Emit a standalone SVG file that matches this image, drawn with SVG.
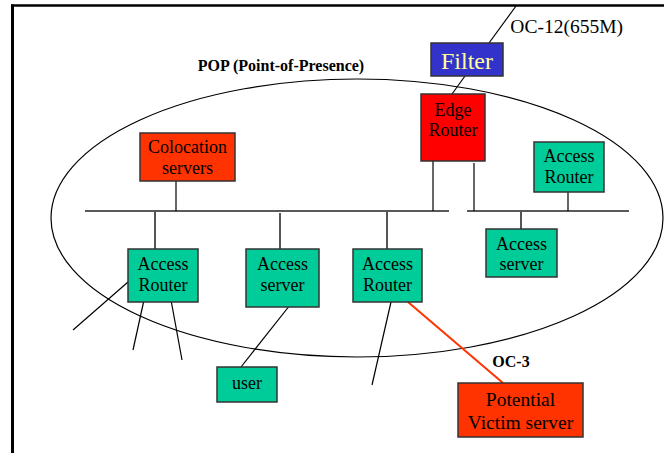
<svg xmlns="http://www.w3.org/2000/svg" width="664" height="453" viewBox="0 0 664 453">
  <style>
    text { font-family: "Liberation Serif", "Times New Roman", serif; text-anchor: middle; fill: #000; }
    .lbl { font-size: 18px; }
    .box { stroke: #333; stroke-width: 1.5; }
    .green { fill: #00CC99; }
    .orange { fill: #FF3300; }
    .wire { stroke: #000; stroke-width: 1.2; fill: none; }
    .stub { stroke: #555; stroke-width: 2; fill: none; }
    .bus { stroke: #222; stroke-width: 1.6; fill: none; }
    .bold { font-weight: bold; font-size: 16px; }
  </style>

  <rect width="664" height="453" fill="#fff"/>

  <!-- page frame -->
  <g id="frame" fill="none" stroke="#000">
    <line x1="11" y1="5.5" x2="664" y2="5.5" stroke-width="2.5"/>
    <line x1="12.5" y1="4.5" x2="12.5" y2="453" stroke-width="3"/>
  </g>

  <!-- POP boundary -->
  <g id="pop">
    <ellipse cx="357" cy="218" rx="306" ry="139" fill="none" stroke="#000" stroke-width="1.2"/>
    <text class="bold" x="281" y="71">POP (Point-of-Presence)</text>
  </g>

  <!-- connectors -->
  <g id="connectors">
    <!-- upstream link -->
    <line class="wire" x1="489" y1="43" x2="516" y2="6"/>
    <line class="wire" x1="465" y1="76" x2="452" y2="94"/>
    <!-- LAN segments -->
    <line class="bus" x1="85" y1="211" x2="449" y2="211"/>
    <line class="bus" x1="467" y1="211" x2="629" y2="211"/>
    <!-- edge router to segments -->
    <line class="wire" x1="433" y1="161" x2="433" y2="211"/>
    <line class="wire" x1="474" y1="163" x2="474" y2="211"/>
    <!-- colocation to segment -->
    <line class="wire" x1="176" y1="181" x2="176" y2="211"/>
    <!-- drops to access devices -->
    <line class="stub" x1="155" y1="211" x2="155" y2="249"/>
    <line class="stub" x1="280" y1="213" x2="280" y2="249"/>
    <line class="stub" x1="387" y1="211" x2="387" y2="249"/>
    <line class="wire" x1="568" y1="192" x2="568" y2="211"/>
    <line class="stub" x1="521" y1="211" x2="521" y2="229"/>
    <!-- customer links -->
    <line class="wire" x1="128" y1="282" x2="73" y2="330"/>
    <line class="wire" x1="144" y1="300" x2="133" y2="350"/>
    <line class="wire" x1="171" y1="300" x2="182" y2="360"/>
    <line class="wire" x1="294" y1="300" x2="241" y2="367"/>
    <line class="wire" x1="391" y1="302" x2="372" y2="385"/>
    <!-- OC-3 link to victim -->
    <line x1="408" y1="302" x2="503" y2="383" stroke="#FF3300" stroke-width="2"/>
  </g>

  <text x="623" y="33" style="font-size:19.5px;text-anchor:end">OC-12(655M)</text>
  <text class="bold" x="511" y="367">OC-3</text>

  <g id="filter">
    <rect class="box" x="431" y="43" width="72" height="33" fill="#3333CC"/>
    <text x="467" y="69" style="font-size:24px;fill:#FFFF99">Filter</text>
  </g>

  <g id="edge-router">
    <rect class="box" x="421" y="94" width="64" height="67" fill="#FF0000"/>
    <text class="lbl" x="453" y="116">Edge</text>
    <text class="lbl" x="453" y="136">Router</text>
  </g>

  <g id="colocation">
    <rect class="box orange" x="140" y="133" width="95" height="48"/>
    <text class="lbl" x="187.5" y="153">Colocation</text>
    <text class="lbl" x="187.5" y="174">servers</text>
  </g>

  <g id="access-router-1">
    <rect class="box green" x="128" y="249" width="70" height="53"/>
    <text class="lbl" x="163" y="270">Access</text>
    <text class="lbl" x="163" y="291">Router</text>
  </g>

  <g id="access-server-1">
    <rect class="box green" x="246" y="249" width="73" height="58"/>
    <text class="lbl" x="282.5" y="270">Access</text>
    <text class="lbl" x="282.5" y="291">server</text>
  </g>

  <g id="access-router-2">
    <rect class="box green" x="353" y="249" width="69" height="53"/>
    <text class="lbl" x="387.5" y="270">Access</text>
    <text class="lbl" x="387.5" y="291">Router</text>
  </g>

  <g id="access-router-3">
    <rect class="box green" x="534" y="142" width="70" height="50"/>
    <text class="lbl" x="569" y="162">Access</text>
    <text class="lbl" x="569" y="183">Router</text>
  </g>

  <g id="access-server-2">
    <rect class="box green" x="486" y="229" width="71" height="48"/>
    <text class="lbl" x="521.5" y="250">Access</text>
    <text class="lbl" x="521.5" y="270">server</text>
  </g>

  <g id="user">
    <rect class="box green" x="217" y="367" width="60" height="35"/>
    <text class="lbl" x="247" y="389">user</text>
  </g>

  <g id="victim">
    <rect class="box orange" x="458" y="383" width="125" height="54"/>
    <text x="520.5" y="406" style="font-size:19.5px">Potential</text>
    <text x="520.5" y="429" style="font-size:19.5px">Victim server</text>
  </g>
</svg>
